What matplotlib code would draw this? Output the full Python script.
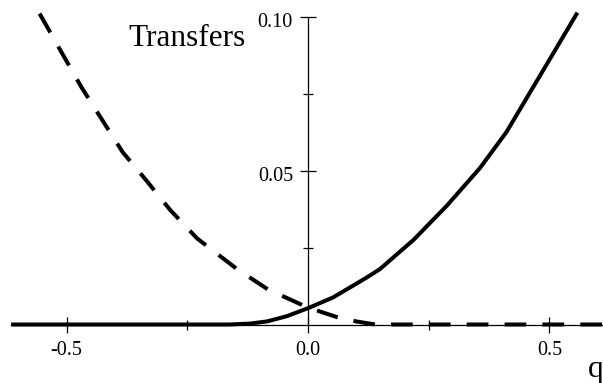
import matplotlib
matplotlib.use("Agg")
import matplotlib.pyplot as plt
import matplotlib.transforms as mtransforms

# values
q_solid = [-0.615, -0.162, -0.12, -0.085, -0.044, 0.0, 0.052, 0.122, 0.149,
           0.19, 0.218, 0.287, 0.356, 0.411, 0.502, 0.558]
v_solid = [0.0, 0.0, 0.0003, 0.001, 0.0027, 0.0053, 0.0088, 0.0153, 0.018,
           0.0236, 0.0274, 0.0385, 0.0508, 0.0625, 0.0865, 0.1013]

q_dash = [-0.556, -0.508, -0.469, -0.427, -0.384, -0.336, -0.286, -0.23,
          -0.147, -0.083, -0.01, 0.025, 0.062, 0.10, 0.139, 0.3, 0.611]
v_dash = [0.101, 0.0877, 0.077, 0.0666, 0.056, 0.047, 0.0373, 0.028,
          0.018, 0.0114, 0.0062, 0.0042, 0.0023, 0.001, 0.0, 0.0, 0.0]

x_major = [-0.5, 0.0, 0.5]
x_labels = ["-0.5", "0.0", "0.5"]
x_minor = [-0.25, 0.25]
y_major = [0.05, 0.10]
y_labels = ["0.05", "0.10"]
y_minor = [0.025, 0.075]

plt.rcParams['font.family'] = ['Liberation Serif', 'DejaVu Serif']
plt.rcParams['axes.unicode_minus'] = False

fig = plt.figure(figsize=(6.03, 3.83), dpi=100)
ax = fig.add_axes([0, 0, 1, 1])
ax.set_xlim(-0.638, 0.611)
ax.set_ylim(-0.019, 0.1054)

ax.plot(q_solid, v_solid, color='k', lw=2.9, solid_capstyle='butt',
        solid_joinstyle='round')
ax.plot(q_dash, v_dash, color='k', lw=2.9, linestyle=(0, (5.4, 4)),
        dash_capstyle='butt', dash_joinstyle='round')

for s in ['top', 'right']:
    ax.spines[s].set_visible(False)
ax.spines['left'].set_position(('data', 0))
ax.spines['bottom'].set_position(('data', 0))
ax.spines['left'].set_bounds(0, 0.10)
ax.spines['bottom'].set_bounds(-0.615, 0.611)
for s in ['left', 'bottom']:
    ax.spines[s].set_linewidth(0.9)

ax.set_xticks(x_major)
ax.set_xticklabels(x_labels)
ax.set_xticks(x_minor, minor=True)
ax.set_yticks(y_major)
ax.set_yticklabels(y_labels)
ax.set_yticks(y_minor, minor=True)
ax.tick_params(which='major', direction='inout', length=11, width=0.9,
               labelsize=14.5)
ax.tick_params(which='minor', direction='inout', length=7, width=0.9)
ax.tick_params(axis='x', which='major', pad=6.5)
ax.tick_params(axis='y', which='major', pad=5.4)

# labels sit a little below their ticks in the reference
offset = mtransforms.ScaledTranslation(0, -3 / 100, fig.dpi_scale_trans)
for lab in ax.get_yticklabels():
    lab.set_transform(lab.get_transform() + offset)

fig.text(128 / 603, 1 - 46 / 383, "Transfers", fontsize=22.5,
         ha='left', va='baseline')
fig.text(588 / 603, 1 - 377 / 383, "q", fontsize=22.5,
         ha='left', va='baseline')

fig.savefig("out.png", dpi=100)
